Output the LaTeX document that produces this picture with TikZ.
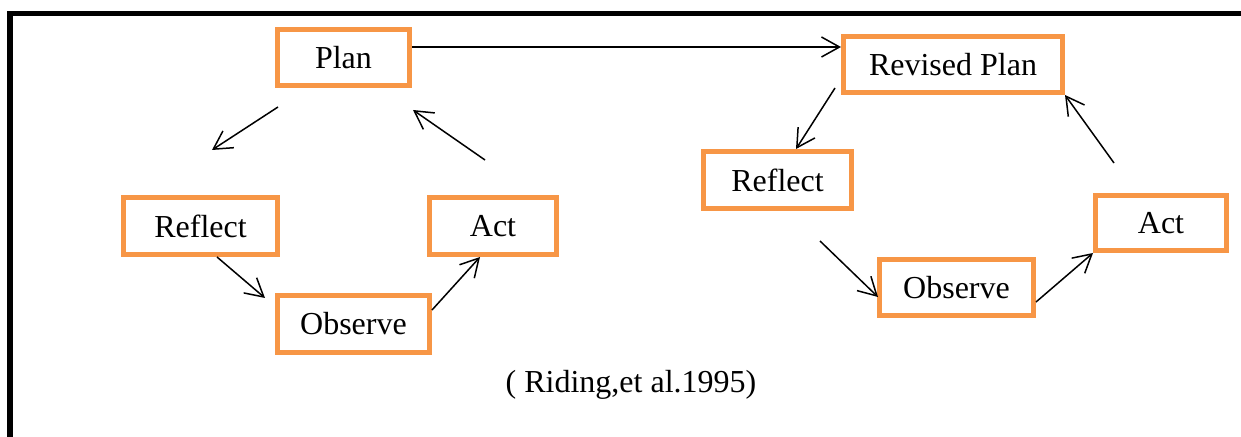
\documentclass[tikz,border=0pt]{standalone}
\usepackage{fontspec}
\setmainfont{Liberation Serif}
\usetikzlibrary{arrows.meta}
\definecolor{boxorange}{RGB}{247,150,70}
\begin{document}
\begin{tikzpicture}[x=0.5pt,y=-0.5pt,
  stagebox/.style={draw=boxorange,line width=2.5pt,inner sep=0pt,font=\fontsize{16pt}{19pt}\selectfont},
  arr/.style={draw=black,line width=0.75pt,-{Straight Barb[length=9pt,width=10pt,line width=0.75pt]}},
  frameline/.style={line width=2.75pt,line join=miter}]
\useasboundingbox (0,0) rectangle (1241,437);
% frame (top and left sides only, as cropped)
\draw[frameline] (10,437) -- (10,13.5) -- (1241,13.5);
% left cycle
\node[stagebox,minimum width=66pt,minimum height=28pt] (plan) at (343.5,57.5) {Plan};
\node[stagebox,minimum width=77pt,minimum height=28.5pt] (reflectL) at (200.5,226) {Reflect};
\node[stagebox,minimum width=63.5pt,minimum height=28.5pt] (actL) at (493,226) {Act};
\node[stagebox,minimum width=76pt,minimum height=28.5pt] (observeL) at (353.5,324) {Observe};
% right cycle
\node[stagebox,minimum width=109.5pt,minimum height=28pt] (rplan) at (953,64.5) {Revised Plan};
\node[stagebox,minimum width=74pt,minimum height=28.5pt] (reflectR) at (777.5,180) {Reflect};
\node[stagebox,minimum width=77pt,minimum height=28pt] (observeR) at (956.5,287.5) {Observe};
\node[stagebox,minimum width=65.5pt,minimum height=27.5pt] (actR) at (1161,223) {Act};
% caption
\node[font=\fontsize{16pt}{19pt}\selectfont] (cite) at (631,385) {( Riding,et al.1995)};
% free arrow ends
\coordinate (pA) at (278,107);
\coordinate (pB) at (212,150);
\coordinate (aA) at (485,160);
\coordinate (aB) at (413,110);
\coordinate (oLtip) at (265,298);
\coordinate (rpA) at (835,88);
\coordinate (arA) at (1114,163);
\coordinate (rrA) at (820,241);
\coordinate (orTip) at (878,297);
% connectors
\draw[arr] (plan.east |- 0,47) -- (rplan.west |- 0,47);
\draw[arr] (pA) -- (pB);
\draw[arr] (aA) -- (aB);
\draw[arr] (reflectL.south -| 217,0) -- (oLtip);
\draw[arr] (observeL.east |- 0,310) -- (actL.south -| 480,0);
\draw[arr] (rpA) -- (reflectR.north -| 796,0);
\draw[arr] (arA) -- (rplan.south east);
\draw[arr] (rrA) -- (orTip);
\draw[arr] (observeR.east |- 0,302) -- (actR.south west);
\end{tikzpicture}
\end{document}
